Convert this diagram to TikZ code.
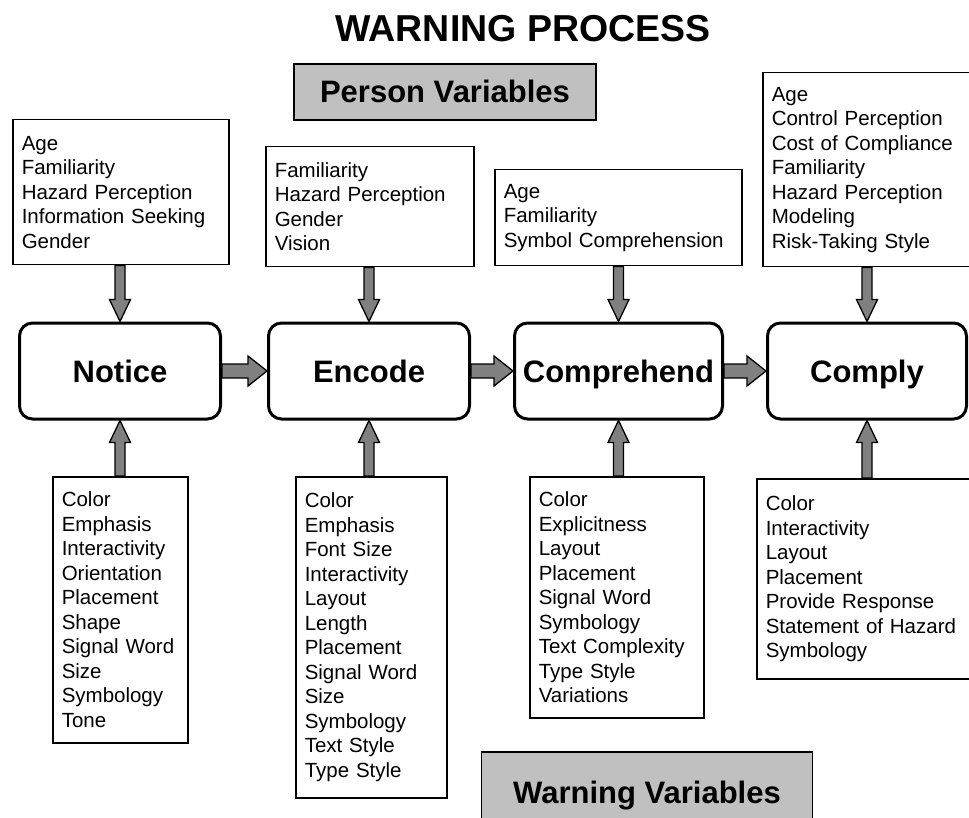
\documentclass[tikz,border=0pt]{standalone}
\usepackage{fontspec}
\setmainfont{Liberation Sans}
\usetikzlibrary{calc}

\definecolor{boxgray}{RGB}{192,192,192}
\definecolor{arrowgray}{RGB}{128,128,128}

\newcommand\listfont{\fontsize{20.5}{24.5}\selectfont}
\newcommand\headfont{\bfseries\fontsize{31}{36}\selectfont}
% block arrow: from, to, half shaft, half head, head length
\newcommand\fatarrow[5]{%
  \coordinate (hb) at ($(#2)!#5!(#1)$);
  \draw[fat] ($(#1)!#3!90:(#2)$) -- ($(hb)!#3!90:(#2)$) -- ($(hb)!#4!90:(#2)$) -- (#2)
    -- ($(hb)!#4!-90:(#2)$) -- ($(hb)!#3!-90:(#2)$) -- ($(#1)!#3!-90:(#2)$) -- cycle;}

\begin{document}
\begin{tikzpicture}[x=1pt, y=-1pt,
  stage/.style={draw, line width=3pt, rounded corners=13pt, minimum height=96,
    inner sep=0pt, text height=22pt, text depth=0pt, font=\headfont},
  header/.style={draw, line width=1.8pt, fill=boxgray, inner sep=0pt,
    text height=22pt, text depth=0pt, font=\headfont},
  listbox/.style={draw, line width=1.5pt, anchor=north west, align=left,
    inner xsep=9pt, inner ysep=0pt, font=\listfont},
  fat/.style={fill=arrowgray, draw=black, line width=1.3pt, line join=miter}]
  \useasboundingbox (0,0) rectangle (969,818);

  % Title
  \node[inner sep=0pt, text height=27pt, text depth=0pt,
    font=\bfseries\fontsize{37.5}{42}\selectfont] (title) at (523,28.5) {WARNING PROCESS};

  % Headers
  \node[header, minimum width=302, minimum height=56] (person) at (445,92) {Person Variables};
  \node[header, minimum width=331, minimum height=80] (warning) at (647,792) {Warning Variables};

  % Stages
  \node[stage, minimum width=201] (notice) at (120,371) {Notice};
  \node[stage, minimum width=201] (encode) at (369,371) {Encode};
  \node[stage, minimum width=208] (comprehend) at (618.5,371) {Comprehend};
  \node[stage, minimum width=199] (comply) at (867,371) {Comply};

  % Person variables
  \node[listbox, text width=198, minimum height=145] (pnotice) at (12,119)
    {Age\\Familiarity\\Hazard Perception\\Information Seeking\\Gender};
  \node[listbox, text width=190, minimum height=120] (pencode) at (265,146)
    {Familiarity\\Hazard Perception\\Gender\\Vision};
  \node[listbox, text width=229, minimum height=96] (pcomprehend) at (494,169)
    {Age\\Familiarity\\Symbol Comprehension};
  \node[listbox, text width=200, minimum height=194] (pcomply) at (762,72)
    {Age\\Control Perception\\Cost of Compliance\\Familiarity\\Hazard Perception\\Modeling\\Risk-Taking Style};

  % Warning variables
  \node[listbox, text width=117, minimum height=266] (wnotice) at (52,476)
    {Color\\Emphasis\\Interactivity\\Orientation\\Placement\\Shape\\Signal Word\\Size\\Symbology\\Tone};
  \node[listbox, text width=133, minimum height=321] (wencode) at (295,476)
    {Color\\Emphasis\\Font Size\\Interactivity\\Layout\\Length\\Placement\\Signal Word\\Size\\Symbology\\Text Style\\Type Style};
  \node[listbox, text width=156, minimum height=241] (wcomprehend) at (529,476)
    {Color\\Explicitness\\Layout\\Placement\\Signal Word\\Symbology\\Text Complexity\\Type Style\\Variations};
  \node[listbox, text width=198, minimum height=200] (wcomply) at (756,478)
    {Color\\Interactivity\\Layout\\Placement\\Provide Response\\Statement of Hazard\\Symbology};

  % Arrows between stages
  \foreach \a/\b in {notice/encode, encode/comprehend, comprehend/comply}
    \fatarrow{\a.east}{\b.west}{7pt}{15pt}{19pt};

  % Arrows from the variable lists
  \foreach \s in {notice, encode, comprehend, comply} {
    \coordinate (from) at (\s.north |- p\s.south);
    \fatarrow{from}{\s.north}{5pt}{10.5pt}{22pt}
    \coordinate (from) at (\s.south |- w\s.north);
    \fatarrow{from}{\s.south}{5pt}{10.5pt}{22pt}
  }
\end{tikzpicture}
\end{document}
